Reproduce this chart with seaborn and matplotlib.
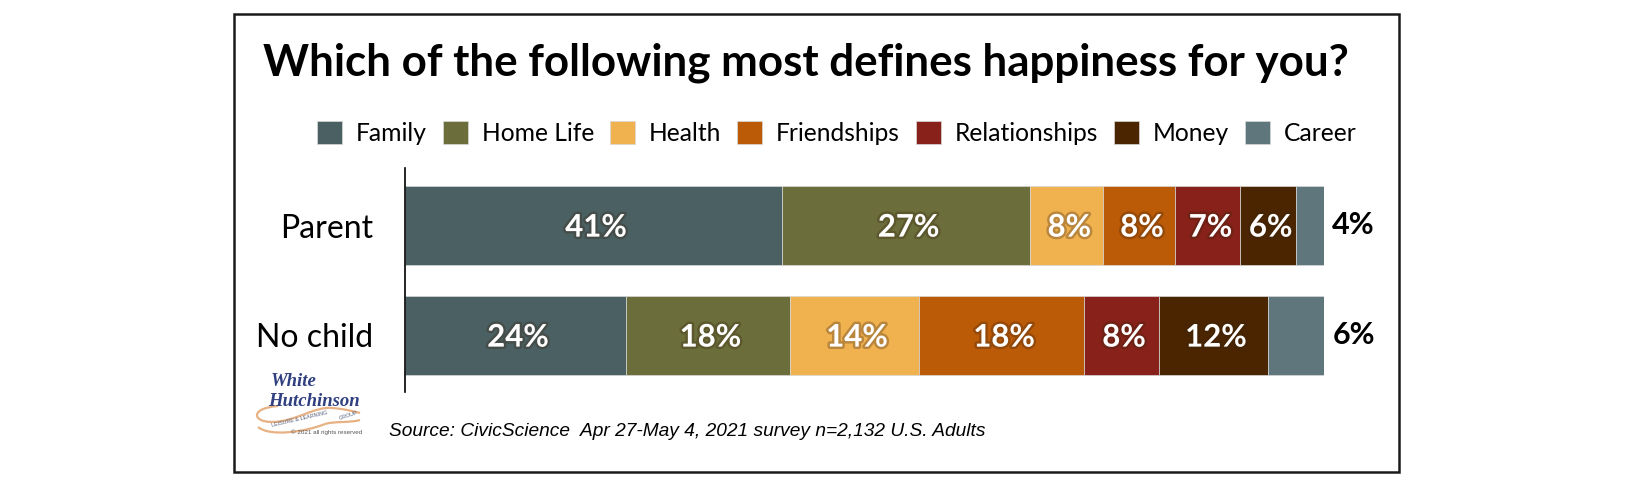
import pandas as pd
import seaborn as sns
import matplotlib.pyplot as plt
import matplotlib.patheffects as pe
from matplotlib.patches import Rectangle, PathPatch
from matplotlib.path import Path

# ---- data ----
groups = ['Parent', 'No child']
answers = ['Family', 'Home Life', 'Health', 'Friendships', 'Relationships', 'Money', 'Career']
parent = [41.0, 27.0, 8.0, 7.8, 7.1, 6.0, 3.1]
no_child = [24.0, 17.9, 14.0, 18.0, 8.1, 11.9, 6.1]
parent_labels = ['41%', '27%', '8%', '8%', '7%', '6%', '4%']
no_child_labels = ['24%', '18%', '14%', '18%', '8%', '12%', '6%']
colors = ['#4A6063', '#6B6E3A', '#F0B14F', '#BB5A07', '#872119', '#4B2400', '#5E767C']

W, H = 1650, 483
TEXT_FONT = ['Lato', 'DejaVu Sans']

df = pd.DataFrame({
    'group': [groups[0]] * len(answers) + [groups[1]] * len(answers),
    'answer': answers * 2,
    'pct': parent + no_child,
})

sns.set_theme(style='white')
plt.rcParams['font.family'] = TEXT_FONT

fig = plt.figure(figsize=(W / 100, H / 100), dpi=100, facecolor='white')


def fx(px):
    return px / W


def fy(py):
    return 1 - py / H


# axes: spine runs y=168..392, bars x=405..1324
ax = fig.add_axes([fx(405), fy(392), fx(1324 - 405), (392 - 168) / H])
# histplot stacks the last hue first, so the order is reversed here
sns.histplot(
    data=df, y='group', hue='answer', weights='pct', multiple='stack',
    discrete=True, shrink=0.71, hue_order=answers[::-1], palette=colors[::-1], alpha=1,
    edgecolor='#d8d8d8', linewidth=0.5, ax=ax,
)
ax.set_xlim(0, 100)
ax.set_ylim(1.514, -0.523)
ax.set_xlabel('')
ax.set_ylabel('')
ax.set_xticks([])
ax.set_yticks(range(len(groups)))
ax.set_yticklabels(groups, fontsize=23, color='black')
ax.tick_params(axis='y', length=0, pad=23)
sns.despine(ax=ax, left=False, bottom=True)
ax.spines['left'].set_color('black')
ax.spines['left'].set_linewidth(1.2)

# value labels from the stacked containers
glow = [pe.withStroke(linewidth=3.5, foreground='#3a2410', alpha=0.3)]
for container, answer in zip(ax.containers, answers):
    i = answers.index(answer)
    bars = sorted(container.patches, key=lambda p: p.get_y())
    for bar, lab in zip(bars, [parent_labels[i], no_child_labels[i]]):
        mid_y = bar.get_y() + bar.get_height() / 2
        if answer == 'Career':
            # Career labels sit outside the bar, in black
            ax.annotate(lab, (100, mid_y), xytext=(6, 0.5), textcoords='offset points',
                        va='center', ha='left', fontsize=22, fontweight='bold',
                        color='black', annotation_clip=False)
        else:
            ax.annotate(lab, (bar.get_x() + bar.get_width() / 2, mid_y),
                        xytext=(2, -1.5), textcoords='offset points',
                        ha='center', va='center', fontsize=22.4, fontweight='bold',
                        color='white', path_effects=glow)

old = ax.get_legend()
ax.legend(old.legend_handles[::-1], [t.get_text() for t in old.get_texts()][::-1],
          loc='center left', bbox_to_anchor=(fx(317), fy(133)),
          bbox_transform=fig.transFigure, ncol=7, frameon=False,
          fontsize=17.7, handlelength=1.02, handleheight=1.02, labelcolor='black',
          handletextpad=0.56, columnspacing=0.65, borderpad=0, borderaxespad=0)

fig.text(fx(263), fy(63), 'Which of the following most defines happiness for you?',
         fontsize=31.6, fontweight='bold', va='center', ha='left', color='black')
fig.text(fx(389), fy(431), 'Source: CivicScience  Apr 27-May 4, 2021 survey n=2,132 U.S. Adults',
         fontsize=13.8, style='italic', family='Liberation Sans', va='center', ha='left',
         color='black')

# outer frame
fig.add_artist(Rectangle((fx(234), fy(472)), fx(1399 - 234), (472 - 14) / H,
                         transform=fig.transFigure, fill=False, ec='#1a1a1a', lw=1.8))

# logo
navy = '#2F3F7F'
fig.text(fx(271), fy(382), 'White', fontsize=13.5, style='italic', fontweight='bold',
         family='Liberation Serif', color=navy, va='center')
fig.text(fx(268), fy(401), 'Hutchinson', fontsize=13.5, style='italic', fontweight='bold',
         family='Liberation Serif', color=navy, va='center', ha='left')
swoosh = '#E8B183'


def px_path(pts):
    return Path([(fx(x), fy(y)) for x, y in pts],
                [Path.MOVETO, Path.CURVE4, Path.CURVE4, Path.CURVE4])


for pts in ([(278, 406), (250, 408), (252, 422), (272, 422)],
            [(272, 422), (295, 422), (315, 406), (332, 408)],
            [(332, 408), (345, 409), (352, 411), (360, 413)],
            [(258, 427), (270, 437), (305, 432), (325, 424)],
            [(325, 424), (335, 421), (350, 423), (360, 420)]):
    fig.add_artist(PathPatch(px_path(pts), transform=fig.transFigure, fill=False,
                             ec=swoosh, lw=1.6))
fig.text(fx(300), fy(419), 'LEISURE & LEARNING', fontsize=3.9, color='#56627f',
         rotation=13, va='center', ha='center', family='Liberation Sans')
fig.text(fx(349), fy(416), 'GROUP', fontsize=3.9, color='#56627f', rotation=18,
         va='center', ha='center', family='Liberation Sans')
fig.text(fx(291), fy(432), '\u00a9 2021 all rights reserved', fontsize=4.5, color='#555555',
         va='center', family='Liberation Sans')

fig.savefig('out.png', dpi=100, facecolor='white')
